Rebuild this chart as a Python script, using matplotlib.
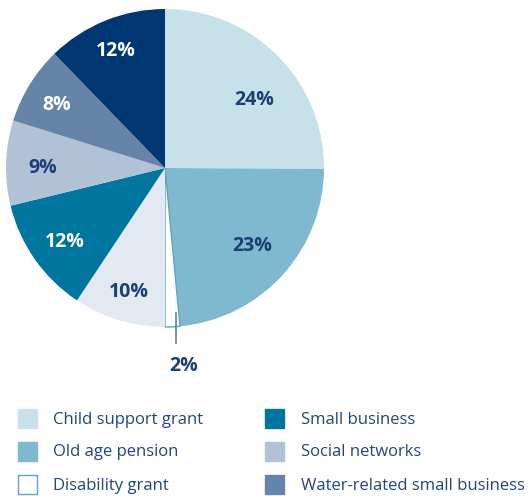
import matplotlib
matplotlib.use("Agg")
import matplotlib.pyplot as plt
from matplotlib.patches import Rectangle
import numpy as np

categories = ["Child support grant", "Old age pension", "Disability grant", "Other",
              "Small business", "Social networks", "Water-related small business", "Other income"]
shares = [25.0, 23.3, 1.5, 9.3, 11.8, 8.6, 7.9, 12.2]
pct_labels = ["24%", "23%", "2%", "10%", "12%", "9%", "8%", "12%"]
colors = ["#c6e1ea", "#7fb9cf", "#ffffff", "#e3e9f1", "#00759e", "#b2c2d6", "#6584a8", "#003671"]
text_colors = ["#1c3f74", "#1c3f74", "#1c3f74", "#1c3f74", "#ffffff", "#1c3f74", "#ffffff", "#ffffff"]
legend_idx = [0, 1, 2, 4, 5, 6]

# label placement tweaks (radial distance, angle offset in degrees)
label_dist = [0.72, 0.72, 1.22, 0.79, 0.77, 0.77, 0.80, 0.82]
label_dang = [-6, 2, 0, 0, 0, 0, 0, 0]

W, H = 528, 497
fig = plt.figure(figsize=(W / 100, H / 100), dpi=100)
fig.patch.set_facecolor("white")

cx, cy, r = 165, 168, 159
ax = fig.add_axes([(cx - r) / W, (H - cy - r) / H, 2 * r / W, 2 * r / H])

wedges, _ = ax.pie(shares, colors=colors, startangle=90, counterclock=False, radius=1,
                   wedgeprops=dict(linewidth=0))
ax.set_xlim(-1, 1)
ax.set_ylim(-1, 1)
ax.set_aspect("equal")
ax.axis("off")
wedges[2].set_edgecolor("#5fa3c0")
wedges[2].set_linewidth(1.0)

fontfam = ["Open Sans", "DejaVu Sans"]
for i, w in enumerate(wedges):
    mid = np.deg2rad((w.theta1 + w.theta2) / 2 + label_dang[i])
    d = label_dist[i]
    tx, ty = d * np.cos(mid), d * np.sin(mid) - 0.025
    if i == 2:
        x0 = 0.07
        ax.plot([x0, x0], [-0.91, -1.10], color="#5a7fa8", lw=1.2, clip_on=False)
        tx += 0.06
    ax.text(tx, ty, pct_labels[i], ha="center", va="center",
            fontsize=14, fontweight="bold", color=text_colors[i], family=fontfam)

# legend
lax = fig.add_axes([0, 0, 1, 1])
lax.set_xlim(0, W)
lax.set_ylim(H, 0)
lax.axis("off")
rows = [418, 451, 484]
cols = [(17, 53), (264, 301)]
for k, idx in enumerate(legend_idx):
    c = k // 3
    rr = k % 3
    sx, tx = cols[c]
    y = rows[rr]
    ec = "#5fa3c0" if idx == 2 else colors[idx]
    lax.add_patch(Rectangle((sx + 0.5, y - 9.5), 19, 19, facecolor=colors[idx], edgecolor=ec, lw=1.0))
    lax.text(tx, y + 1.5, categories[idx], ha="left", va="center", fontsize=12, color="#23457a",
             family=fontfam)

fig.savefig("out.png", dpi=100, facecolor="white")
